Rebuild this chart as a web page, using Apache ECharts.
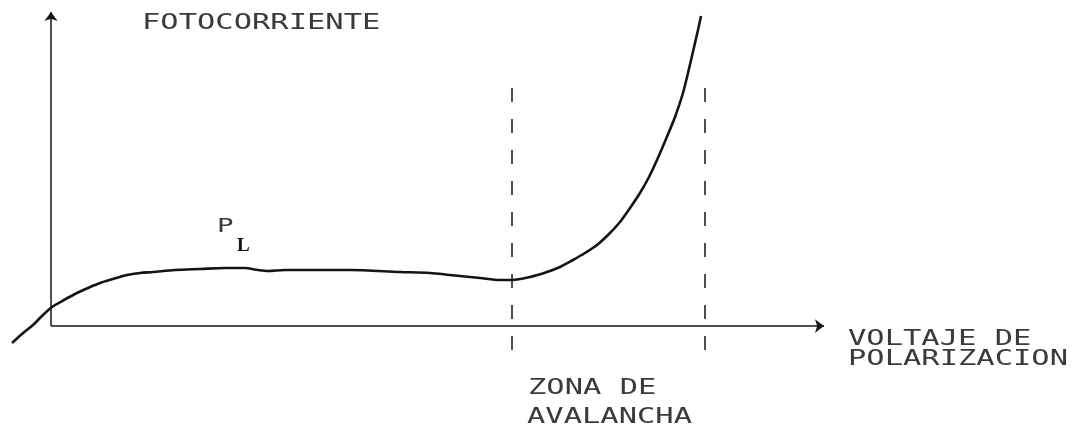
<!DOCTYPE html>
<html><head><meta charset="utf-8">
<script src="https://cdn.jsdelivr.net/npm/echarts@6/dist/echarts.min.js"></script>
<style>html,body{margin:0;padding:0;background:#fff}#c{width:1092px;height:437px}</style>
</head><body><div id="c"></div>
<script>
// Photocurrent vs bias voltage (arbitrary units)
const voltage = [-39, -29, -18, -9, 1, 13, 26, 37, 49, 62, 76, 89, 102, 124, 149, 174, 194, 207, 217, 234, 249, 299, 349, 379, 399, 429, 449, 461, 479, 496, 509, 522, 534, 546, 558, 569, 579, 589, 598, 606, 615, 624, 632, 637, 644, 647, 650];
const photocurrent = [-17, -8, 1, 10, 19, 26, 33, 38, 43, 47, 51, 53, 54, 56, 57, 58, 58, 56, 55, 56, 56, 56, 54, 53, 51, 48, 46, 46, 49, 54, 59, 66, 73, 81, 92, 104, 118, 133, 149, 166, 187, 209, 233, 253, 283, 296, 310];
const avalancheBounds = [461, 654];
const boundSpan = [238, -34];
const xAxisEnd = 773;
const yAxisEnd = 314;
const yTitle = 'FOTOCORRIENTE';
const xTitle = ['VOLTAJE DE', 'POLARIZACION'];
const zoneTitle = ['ZONA DE', 'AVALANCHA'];
const curveLabel = ['P', 'L'];

const chart = echarts.init(document.getElementById('c'), null, {renderer: 'canvas'});
const ink = '#141414';
const mono = {fontFamily: 'DejaVu Sans Mono', fontSize: 21, fill: '#3a3a3a', align: 'left', verticalAlign: 'middle'};
function label(text, x, y, extra) {
  return {type: 'text', x: x, y: y, scaleX: 1.45, silent: true,
    style: Object.assign({}, mono, {text: text}, extra || {})};
}
function axisArrowSeries(end, rotate) {
  return {
    type: 'line', silent: true, clip: false, z: 4,
    data: [{value: [0, 0], symbol: 'none'},
           {value: end, symbol: 'arrow', symbolSize: [10, 9], symbolRotate: rotate}],
    showSymbol: true, showAllSymbol: true,
    itemStyle: {color: ink}, lineStyle: {color: ink, width: 1.5}
  };
}
const series = [{
  type: 'line', data: voltage.map((v, i) => [v, photocurrent[i]]),
  smooth: 0.3, showSymbol: false, clip: false,
  lineStyle: {color: ink, width: 2.6}, z: 3, silent: true
}];
avalancheBounds.forEach(b => series.push({
  type: 'line', data: boundSpan.map(s => [b, s]), showSymbol: false, clip: false,
  lineStyle: {color: ink, width: 1.5, type: [14, 17]}, z: 2, silent: true
}));
series.push(axisArrowSeries([xAxisEnd, 0], -90));
series.push(axisArrowSeries([0, yAxisEnd], 0));
chart.setOption({
  animation: false,
  backgroundColor: '#fff',
  grid: {left: 12, right: 268, top: 12, bottom: 77, containLabel: false},
  xAxis: {type: 'value', min: -39, max: xAxisEnd,
    axisLine: {show: false}, axisTick: {show: false}, axisLabel: {show: false}, splitLine: {show: false}},
  yAxis: {type: 'value', min: -34, max: yAxisEnd,
    axisLine: {show: false}, axisTick: {show: false}, axisLabel: {show: false}, splitLine: {show: false}},
  series: series,
  graphic: [
    label(yTitle, 142, 24),
    label(xTitle[0], 848, 340),
    label(xTitle[1], 848, 360),
    label(zoneTitle[0], 528, 389),
    label(zoneTitle[1], 527, 418),
    label(curveLabel[0], 217, 227, {fontSize: 19}),
    {type: 'text', x: 237, y: 246, silent: true,
      style: {text: curveLabel[1], fontFamily: 'Liberation Serif', fontWeight: 'bold', fontSize: 19, fill: ink, align: 'left', verticalAlign: 'middle'}}
  ]
});
</script></body></html>
